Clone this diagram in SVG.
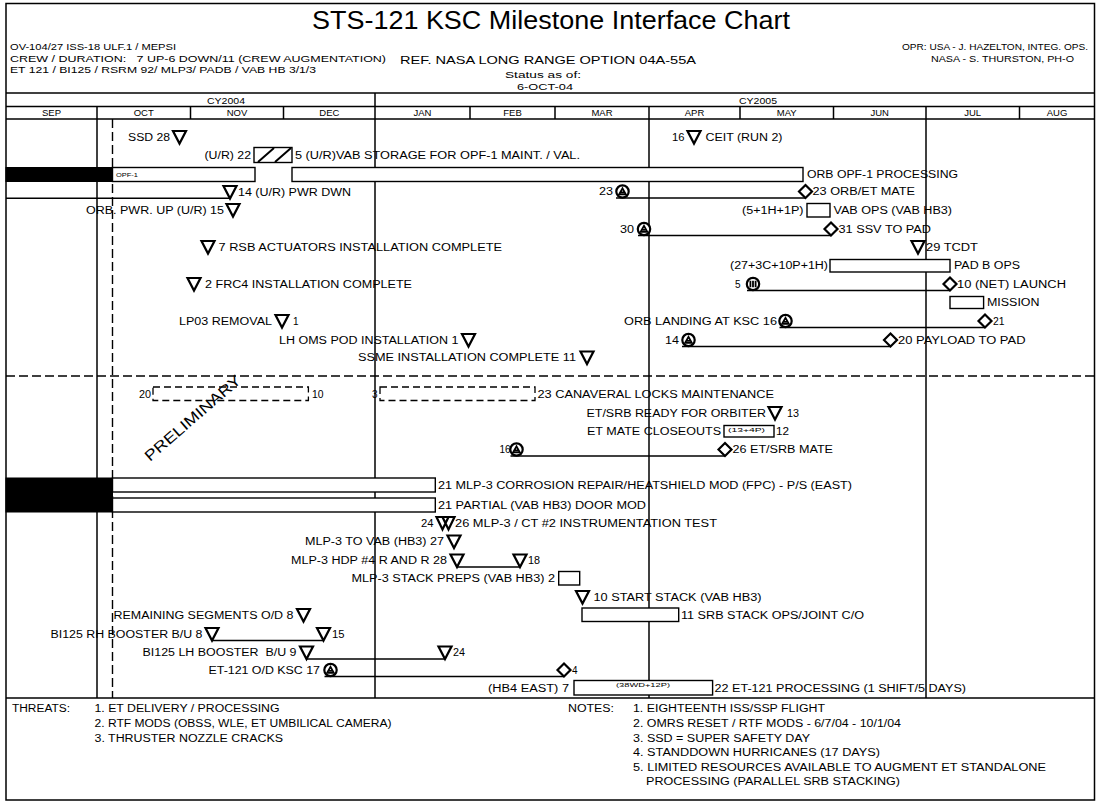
<svg xmlns="http://www.w3.org/2000/svg" width="1099" height="803" viewBox="0 0 1099 803">
<style>
text{font-family:"Liberation Sans",Arial,sans-serif;fill:#000}
.t{font-size:10px}
.h{font-size:9.5px}
.s{font-size:5.8px}
.mo{font-size:9.5px;text-anchor:middle}
.grid{stroke:#000;stroke-width:1.5;fill:none}
.ln{stroke:#000;stroke-width:1.5;fill:none}
.dash{stroke:#000;stroke-width:1.4;stroke-dasharray:9,4;fill:none}
.box{fill:#fff;stroke:#000;stroke-width:1.4}
.blk{fill:#000;stroke:#000;stroke-width:1}
.dbox{fill:none;stroke:#000;stroke-width:1.3;stroke-dasharray:7,4}
.sym{fill:#fff;stroke:#000;stroke-width:2.2;stroke-linejoin:miter}
.ins{fill:none;stroke:#000;stroke-width:1.8}
</style>
<defs>
<path id="tri" class="sym" d="M-6.5,-6 H6.5 L0,6.5 Z"/>
<path id="dia" class="sym" d="M0,-6.5 L6.5,0 L0,6.5 L-6.5,0 Z"/>
<g id="cir"><circle r="6.2" class="sym"/><path class="ins" d="M-3.3,2.8 L0,-3.2 L3.3,2.8 Z M-1.5,0.8 H1.5"/></g>
<g id="cirB"><circle r="6.2" class="sym"/><path class="ins" d="M-2.6,-3.3 V3.3 M0,-3.3 V3.3 M2.6,-3.3 V3.3"/></g>
<path id="dtri" class="sym" d="M-9,-6 H3 L-3,6.5 Z M-3,-6 H9 L3,6.5 Z"/>
</defs>

<g id="frame">
<rect x="6" y="3.5" width="1088.5" height="796.5" class="grid"/>
<line x1="6" y1="93" x2="1094.5" y2="93" class="grid"/>
<line x1="6" y1="106.5" x2="1094.5" y2="106.5" class="grid"/>
<line x1="6" y1="119" x2="1094.5" y2="119" class="grid"/>
<line x1="6" y1="698" x2="1094.5" y2="698" class="grid"/>
<line x1="97" y1="106.5" x2="97" y2="698" class="grid"/>
<line x1="375" y1="93" x2="375" y2="698" class="grid"/>
<line x1="649" y1="106.5" x2="649" y2="698" class="grid"/>
<line x1="926" y1="106.5" x2="926" y2="698" class="grid"/>
<path class="grid" d="M190.5,106.5V119 M283.5,106.5V119 M470,106.5V119 M555,106.5V119 M740,106.5V119 M833.5,106.5V119 M1019.5,106.5V119"/>
<line x1="112.5" y1="119" x2="112.5" y2="698" class="dash"/>
<line x1="6" y1="376" x2="1094.5" y2="376" class="dash"/>
</g>

<g id="header">
<text x="551" y="29" font-size="25" text-anchor="middle" textLength="478" lengthAdjust="spacingAndGlyphs">STS-121 KSC Milestone Interface Chart</text>
<text class="h" x="10" y="49.5" textLength="166" lengthAdjust="spacingAndGlyphs">OV-104/27 ISS-18 ULF.1 / MEPSI</text>
<text class="h" x="10" y="61.5" textLength="376" lengthAdjust="spacingAndGlyphs">CREW / DURATION:&#160;&#160;&#160;7 UP-6 DOWN/11 (CREW AUGMENTATION)</text>
<text class="h" x="10" y="72.5" textLength="306" lengthAdjust="spacingAndGlyphs">ET 121 / BI125 / RSRM 92/ MLP3/ PADB / VAB HB 3/1/3</text>
<text x="400" y="64" font-size="11" textLength="296" lengthAdjust="spacingAndGlyphs">REF. NASA LONG RANGE OPTION 04A-55A</text>
<text x="505" y="77.5" font-size="8.5" textLength="76" lengthAdjust="spacingAndGlyphs">Status as of:</text>
<text x="517" y="90" font-size="8.5" textLength="56" lengthAdjust="spacingAndGlyphs">6-OCT-04</text>
<text class="h" x="902" y="49.5" textLength="186" lengthAdjust="spacingAndGlyphs">OPR: USA - J. HAZELTON, INTEG. OPS.</text>
<text class="h" x="931" y="61.5" textLength="143" lengthAdjust="spacingAndGlyphs">NASA - S. THURSTON, PH-O</text>
<text class="mo" x="226" y="103.5" textLength="38" lengthAdjust="spacingAndGlyphs">CY2004</text>
<text class="mo" x="758" y="103.5" textLength="38" lengthAdjust="spacingAndGlyphs">CY2005</text>
<text class="mo" x="51.5" y="116">SEP</text>
<text class="mo" x="143.7" y="116">OCT</text>
<text class="mo" x="237" y="116">NOV</text>
<text class="mo" x="329.3" y="116">DEC</text>
<text class="mo" x="422.5" y="116">JAN</text>
<text class="mo" x="512.5" y="116">FEB</text>
<text class="mo" x="602" y="116">MAR</text>
<text class="mo" x="694.5" y="116">APR</text>
<text class="mo" x="786.7" y="116">MAY</text>
<text class="mo" x="879.7" y="116">JUN</text>
<text class="mo" x="972.7" y="116">JUL</text>
<text class="mo" x="1057" y="116">AUG</text>
</g>

<g id="connectors">
<line class="ln" x1="6" y1="198.3" x2="230" y2="198.3"/>
<line class="ln" x1="616" y1="198" x2="805.5" y2="198"/>
<line class="ln" x1="638" y1="235.5" x2="831" y2="235.5"/>
<line class="ln" x1="747" y1="290.5" x2="950" y2="290.5"/>
<line class="ln" x1="779.5" y1="327.5" x2="985" y2="327.5"/>
<line class="ln" x1="682" y1="346.5" x2="890.5" y2="346.5"/>
<line class="ln" x1="510.5" y1="456" x2="725" y2="456"/>
<line class="ln" x1="457" y1="567" x2="520" y2="567"/>
<line class="ln" x1="212" y1="640.5" x2="323.5" y2="640.5"/>
<line class="ln" x1="306.5" y1="659" x2="445" y2="659"/>
<line class="ln" x1="324.5" y1="676.5" x2="564" y2="676.5"/>
</g>

<g id="ssd"><text class="t" x="128" y="140.6" textLength="42" lengthAdjust="spacingAndGlyphs">SSD 28</text><use href="#tri" x="179.5" y="137"/></g>
<g id="ceit"><text class="t" x="672" y="140.6" textLength="12.5" lengthAdjust="spacingAndGlyphs">16</text><use href="#tri" x="694" y="137"/><text class="t" x="705.5" y="140.6" textLength="77" lengthAdjust="spacingAndGlyphs">CEIT (RUN 2)</text></g>
<g id="vab-storage"><text class="t" x="204.5" y="158.6" textLength="46.5" lengthAdjust="spacingAndGlyphs">(U/R) 22</text><rect class="box" x="254" y="147.5" width="38" height="15"/><path d="M258,162 L274,148 M275,162 L291,148" stroke="#000" stroke-width="2"/><text class="t" x="295" y="158.6" textLength="285" lengthAdjust="spacingAndGlyphs">5 (U/R)VAB STORAGE FOR OPF-1 MAINT. / VAL.</text></g>
<g id="opf1"><rect class="blk" x="6" y="167.5" width="106.5" height="14"/><rect class="box" x="112.5" y="167.5" width="142.5" height="14"/><text class="s" x="116" y="176.5" textLength="22" lengthAdjust="spacingAndGlyphs">OPF-1</text><rect class="box" x="292" y="167.5" width="511" height="14"/><text class="t" x="807" y="178" textLength="151" lengthAdjust="spacingAndGlyphs">ORB OPF-1 PROCESSING</text></g>
<g id="pwr-dwn"><use href="#tri" x="230" y="192"/><text class="t" x="238" y="195.6" textLength="113" lengthAdjust="spacingAndGlyphs">14 (U/R) PWR DWN</text></g>
<g id="orb-et-mate"><text class="t" x="599" y="195.1" textLength="14" lengthAdjust="spacingAndGlyphs">23</text><use href="#cir" x="622.5" y="191.5"/><use href="#dia" x="805.5" y="191.5"/><text class="t" x="812.5" y="195.1" textLength="102.5" lengthAdjust="spacingAndGlyphs">23 ORB/ET MATE</text></g>
<g id="pwr-up"><text class="t" x="86" y="213.6" textLength="138" lengthAdjust="spacingAndGlyphs">ORB. PWR. UP (U/R) 15</text><use href="#tri" x="233" y="210"/></g>
<g id="vab-ops"><text class="t" x="742" y="213.6" textLength="61.5" lengthAdjust="spacingAndGlyphs">(5+1H+1P)</text><rect class="box" x="807" y="203.5" width="23" height="13.5"/><text class="t" x="833.5" y="213.6" textLength="118.5" lengthAdjust="spacingAndGlyphs">VAB OPS (VAB HB3)</text></g>
<g id="ssv-to-pad"><text class="t" x="620" y="232.6" textLength="14" lengthAdjust="spacingAndGlyphs">30</text><use href="#cir" x="644" y="229"/><use href="#dia" x="831" y="229"/><text class="t" x="838.5" y="232.6" textLength="92.5" lengthAdjust="spacingAndGlyphs">31 SSV TO PAD</text></g>
<g id="rsb"><use href="#tri" x="208" y="247"/><text class="t" x="218.5" y="250.6" textLength="283.5" lengthAdjust="spacingAndGlyphs">7 RSB ACTUATORS INSTALLATION COMPLETE</text></g>
<g id="tcdt"><use href="#tri" x="918" y="247"/><text class="t" x="926" y="250.6" textLength="52" lengthAdjust="spacingAndGlyphs">29 TCDT</text></g>
<g id="pad-b-ops"><text class="t" x="730" y="269.1" textLength="98" lengthAdjust="spacingAndGlyphs">(27+3C+10P+1H)</text><rect class="box" x="830" y="259.5" width="120" height="12.5"/><text class="t" x="954" y="269.1" textLength="66" lengthAdjust="spacingAndGlyphs">PAD B OPS</text></g>
<g id="frc4"><use href="#tri" x="194" y="284"/><text class="t" x="205" y="287.6" textLength="207" lengthAdjust="spacingAndGlyphs">2 FRC4 INSTALLATION COMPLETE</text></g>
<g id="launch"><text class="t" x="735" y="287.6">5</text><use href="#cirB" x="753" y="284"/><use href="#dia" x="950" y="284"/><text class="t" x="957" y="287.6" textLength="109" lengthAdjust="spacingAndGlyphs">10 (NET) LAUNCH</text></g>
<g id="mission"><rect class="box" x="950" y="296.5" width="33.6" height="12"/><text class="t" x="987" y="306.1" textLength="52.5" lengthAdjust="spacingAndGlyphs">MISSION</text></g>
<g id="lp03"><text class="t" x="179" y="324.6" textLength="93" lengthAdjust="spacingAndGlyphs">LP03 REMOVAL</text><use href="#tri" x="282" y="321"/><text class="t" x="293" y="324.6">1</text></g>
<g id="orb-landing"><text class="t" x="624" y="324.6" textLength="153" lengthAdjust="spacingAndGlyphs">ORB LANDING AT KSC 16</text><use href="#cir" x="785.5" y="321"/><use href="#dia" x="985" y="321"/><text class="t" x="993" y="324.6" textLength="11.5" lengthAdjust="spacingAndGlyphs">21</text></g>
<g id="lh-oms"><text class="t" x="279" y="343.6" textLength="179.5" lengthAdjust="spacingAndGlyphs">LH OMS POD INSTALLATION 1</text><use href="#tri" x="468.5" y="340"/></g>
<g id="payload"><text class="t" x="665" y="343.6" textLength="14" lengthAdjust="spacingAndGlyphs">14</text><use href="#cir" x="688.5" y="340"/><use href="#dia" x="890.5" y="340"/><text class="t" x="898" y="343.6" textLength="127.5" lengthAdjust="spacingAndGlyphs">20 PAYLOAD TO PAD</text></g>
<g id="ssme"><text class="t" x="358" y="361.1" textLength="218" lengthAdjust="spacingAndGlyphs">SSME INSTALLATION COMPLETE 11</text><use href="#tri" x="587" y="357.5"/></g>
<g id="prelim-1"><text class="t" x="139" y="397.6" textLength="12" lengthAdjust="spacingAndGlyphs">20</text><rect class="dbox" x="153" y="387" width="155.4" height="13.5"/><text class="t" x="312" y="397.6" textLength="11.5" lengthAdjust="spacingAndGlyphs">10</text></g>
<g id="canaveral"><text class="t" x="372" y="397.6">3</text><rect class="dbox" x="380" y="387" width="155" height="13.5"/><text class="t" x="537.5" y="397.6" textLength="236.5" lengthAdjust="spacingAndGlyphs">23 CANAVERAL LOCKS MAINTENANCE</text></g>
<g id="preliminary"><text x="150" y="462" font-size="15" fill="#666" transform="rotate(-41 150 462)" textLength="122" lengthAdjust="spacingAndGlyphs">PRELIMINARY</text></g>
<g id="et-srb-ready"><text class="t" x="586.5" y="416.6" textLength="179.5" lengthAdjust="spacingAndGlyphs">ET/SRB READY FOR ORBITER</text><use href="#tri" x="775" y="413"/><text class="t" x="787" y="416.6" textLength="12" lengthAdjust="spacingAndGlyphs">13</text></g>
<g id="et-mate-closeouts"><text class="t" x="587" y="435.1" textLength="134" lengthAdjust="spacingAndGlyphs">ET MATE CLOSEOUTS</text><rect class="box" x="724" y="425.5" width="50" height="11.5"/><text class="s" x="728" y="431.5" textLength="37" lengthAdjust="spacingAndGlyphs">(13+4P)</text><text class="t" x="776" y="435.1" textLength="13" lengthAdjust="spacingAndGlyphs">12</text></g>
<g id="et-srb-mate"><text class="t" x="499.5" y="453.1" textLength="11" lengthAdjust="spacingAndGlyphs">16</text><use href="#cir" x="516.5" y="449.5"/><use href="#dia" x="725" y="449.5"/><text class="t" x="732.5" y="453.1" textLength="100.5" lengthAdjust="spacingAndGlyphs">26 ET/SRB MATE</text></g>
<g id="mlp3-bars"><rect class="blk" x="6" y="478" width="106.5" height="34"/><rect class="box" x="112.5" y="478" width="322.8" height="14"/><rect class="box" x="112.5" y="498" width="322.8" height="14"/><text class="t" x="438" y="488.6" textLength="414" lengthAdjust="spacingAndGlyphs">21 MLP-3 CORROSION REPAIR/HEATSHIELD MOD (FPC) - P/S (EAST)</text><text class="t" x="438" y="508.6" textLength="208" lengthAdjust="spacingAndGlyphs">21 PARTIAL (VAB HB3) DOOR MOD</text></g>
<g id="ct2-test"><text class="t" x="421" y="526.6" textLength="12.5" lengthAdjust="spacingAndGlyphs">24</text><use href="#dtri" x="445.5" y="523"/><text class="t" x="455" y="526.6" textLength="262" lengthAdjust="spacingAndGlyphs">26 MLP-3 / CT #2 INSTRUMENTATION TEST</text></g>
<g id="mlp3-to-vab"><text class="t" x="305" y="545.1" textLength="139" lengthAdjust="spacingAndGlyphs">MLP-3 TO VAB (HB3) 27</text><use href="#tri" x="454" y="541.5"/></g>
<g id="hdp4"><text class="t" x="291" y="564.1" textLength="156" lengthAdjust="spacingAndGlyphs">MLP-3 HDP #4 R AND R 28</text><use href="#tri" x="457" y="560.5"/><use href="#tri" x="520" y="560.5"/><text class="t" x="528" y="564.1" textLength="12" lengthAdjust="spacingAndGlyphs">18</text></g>
<g id="stack-preps"><text class="t" x="351.5" y="582.1" textLength="203.5" lengthAdjust="spacingAndGlyphs">MLP-3 STACK PREPS (VAB HB3) 2</text><rect class="box" x="558.7" y="571.5" width="21" height="13.5"/></g>
<g id="start-stack"><use href="#tri" x="582.5" y="597"/><text class="t" x="593.5" y="600.6" textLength="168" lengthAdjust="spacingAndGlyphs">10 START STACK (VAB HB3)</text></g>
<g id="remaining-segments"><text class="t" x="113.5" y="618.6" textLength="180" lengthAdjust="spacingAndGlyphs">REMAINING SEGMENTS O/D 8</text><use href="#tri" x="303.5" y="615"/></g>
<g id="srb-stack-ops"><rect class="box" x="582" y="608" width="96.7" height="13.5"/><text class="t" x="681" y="618.6" textLength="183" lengthAdjust="spacingAndGlyphs">11 SRB STACK OPS/JOINT C/O</text></g>
<g id="rh-booster"><text class="t" x="50.5" y="637.6" textLength="152" lengthAdjust="spacingAndGlyphs">BI125 RH BOOSTER B/U 8</text><use href="#tri" x="212" y="634"/><use href="#tri" x="323.5" y="634"/><text class="t" x="332" y="637.6" textLength="12.5" lengthAdjust="spacingAndGlyphs">15</text></g>
<g id="lh-booster"><text class="t" x="142.5" y="656.1" textLength="154" lengthAdjust="spacingAndGlyphs">BI125 LH BOOSTER&#160; B/U 9</text><use href="#tri" x="306.5" y="652.5"/><use href="#tri" x="445" y="652.5"/><text class="t" x="453" y="656.1" textLength="12" lengthAdjust="spacingAndGlyphs">24</text></g>
<g id="et121-od"><text class="t" x="208.5" y="673.6" textLength="111.5" lengthAdjust="spacingAndGlyphs">ET-121 O/D KSC 17</text><use href="#cir" x="330.5" y="670"/><use href="#dia" x="564" y="670"/><text class="t" x="572" y="673.6">4</text></g>
<g id="et121-processing"><text class="t" x="488" y="691.6" textLength="81" lengthAdjust="spacingAndGlyphs">(HB4 EAST) 7</text><rect class="box" x="574" y="680.5" width="138.6" height="14.5"/><text class="s" x="616" y="686.8" textLength="54" lengthAdjust="spacingAndGlyphs">(38WD+12P)</text><text class="t" x="714.5" y="691.6" textLength="251.5" lengthAdjust="spacingAndGlyphs">22 ET-121 PROCESSING (1 SHIFT/5 DAYS)</text></g>

<g id="threats">
<text class="t" x="12" y="711.6" textLength="58" lengthAdjust="spacingAndGlyphs">THREATS:</text>
<text class="t" x="94.5" y="711.6" textLength="185" lengthAdjust="spacingAndGlyphs">1. ET DELIVERY / PROCESSING</text>
<text class="t" x="94.5" y="726.6" textLength="297" lengthAdjust="spacingAndGlyphs">2. RTF MODS (OBSS, WLE, ET UMBILICAL CAMERA)</text>
<text class="t" x="94.5" y="741.6" textLength="188.5" lengthAdjust="spacingAndGlyphs">3. THRUSTER NOZZLE CRACKS</text>
</g>
<g id="notes">
<text class="t" x="568" y="711.6" textLength="46" lengthAdjust="spacingAndGlyphs">NOTES:</text>
<text class="t" x="633" y="711.6" textLength="192" lengthAdjust="spacingAndGlyphs">1. EIGHTEENTH ISS/SSP FLIGHT</text>
<text class="t" x="633" y="726.6" textLength="268" lengthAdjust="spacingAndGlyphs">2. OMRS RESET / RTF MODS - 6/7/04 - 10/1/04</text>
<text class="t" x="633" y="741.6" textLength="177" lengthAdjust="spacingAndGlyphs">3. SSD = SUPER SAFETY DAY</text>
<text class="t" x="633" y="756" textLength="247" lengthAdjust="spacingAndGlyphs">4. STANDDOWN HURRICANES (17 DAYS)</text>
<text class="t" x="633" y="770.6" textLength="413" lengthAdjust="spacingAndGlyphs">5. LIMITED RESOURCES AVAILABLE TO AUGMENT ET STANDALONE</text>
<text class="t" x="646" y="785" textLength="254" lengthAdjust="spacingAndGlyphs">PROCESSING (PARALLEL SRB STACKING)</text>
</g>
</svg>
